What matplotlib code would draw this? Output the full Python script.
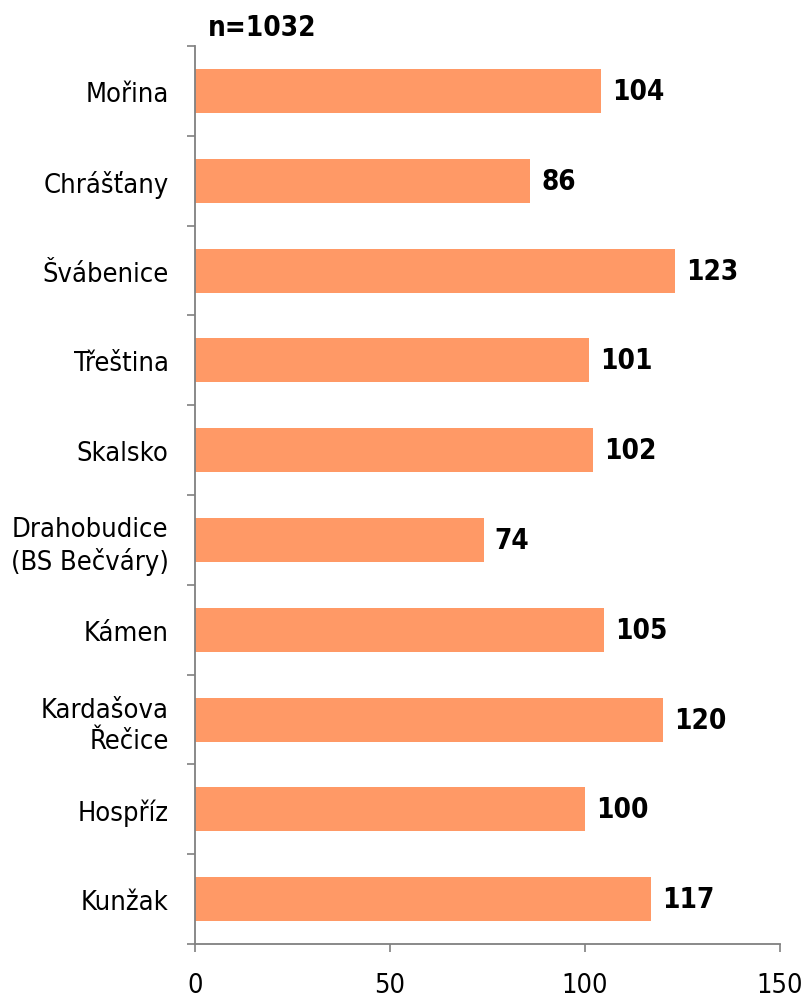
import matplotlib
matplotlib.use("Agg")
import matplotlib.pyplot as plt
import numpy as np

categories = ["Mořina", "Chrášťany", "Švábenice", "Třeština", "Skalsko",
              "Drahobudice\n(BS Bečváry)", "Kámen", "Kardašova\nŘečice",
              "Hospříz", "Kunžak"]
values = [104, 86, 123, 101, 102, 74, 105, 120, 100, 117]
x_ticks = [0, 50, 100, 150]
n_label = "n=1032"

plt.rcParams['font.family'] = ['DejaVu Sans']
plt.rcParams['font.stretch'] = 'condensed'

fig = plt.figure(figsize=(8.08, 10.03), dpi=100)
ax = fig.add_axes([0.2413, 0.0578, 0.7240, 0.8953])

y = np.arange(len(categories))
ax.barh(y, values, height=0.49, color="#FF9966", zorder=2)

ax.set_xlim(0, 150)
ax.set_ylim(len(categories) - 0.5, -0.5)

# popisky hodnot za koncem sloupců
for yi, v in zip(y, values):
    ax.annotate(str(v), (v, yi), xytext=(8, 0), textcoords="offset points",
                va="center", ha="left", fontsize=20, fontweight="bold")

ax.set_xticks(x_ticks)
ax.set_xticklabels([str(t) for t in x_ticks], fontsize=19.5)
ax.set_yticks(y)
ax.set_yticklabels(categories, fontsize=19.5, linespacing=1.25)
ax.set_yticks(np.arange(-0.5, len(categories)), minor=True)

grey = "#808080"
for s in ["top", "right"]:
    ax.spines[s].set_visible(False)
for s in ["left", "bottom"]:
    ax.spines[s].set_color(grey)
    ax.spines[s].set_linewidth(1.3)

ax.tick_params(axis="y", which="major", length=0, pad=19)
ax.tick_params(axis="y", which="minor", length=6, color=grey, width=1.2)
ax.tick_params(axis="x", length=6, color=grey, width=1.2, pad=14)

fig.text(208 / 808, 1 - 28 / 1003, n_label, fontsize=20, fontweight="bold",
         ha="left", va="center")

fig.savefig("out.png", dpi=100)
